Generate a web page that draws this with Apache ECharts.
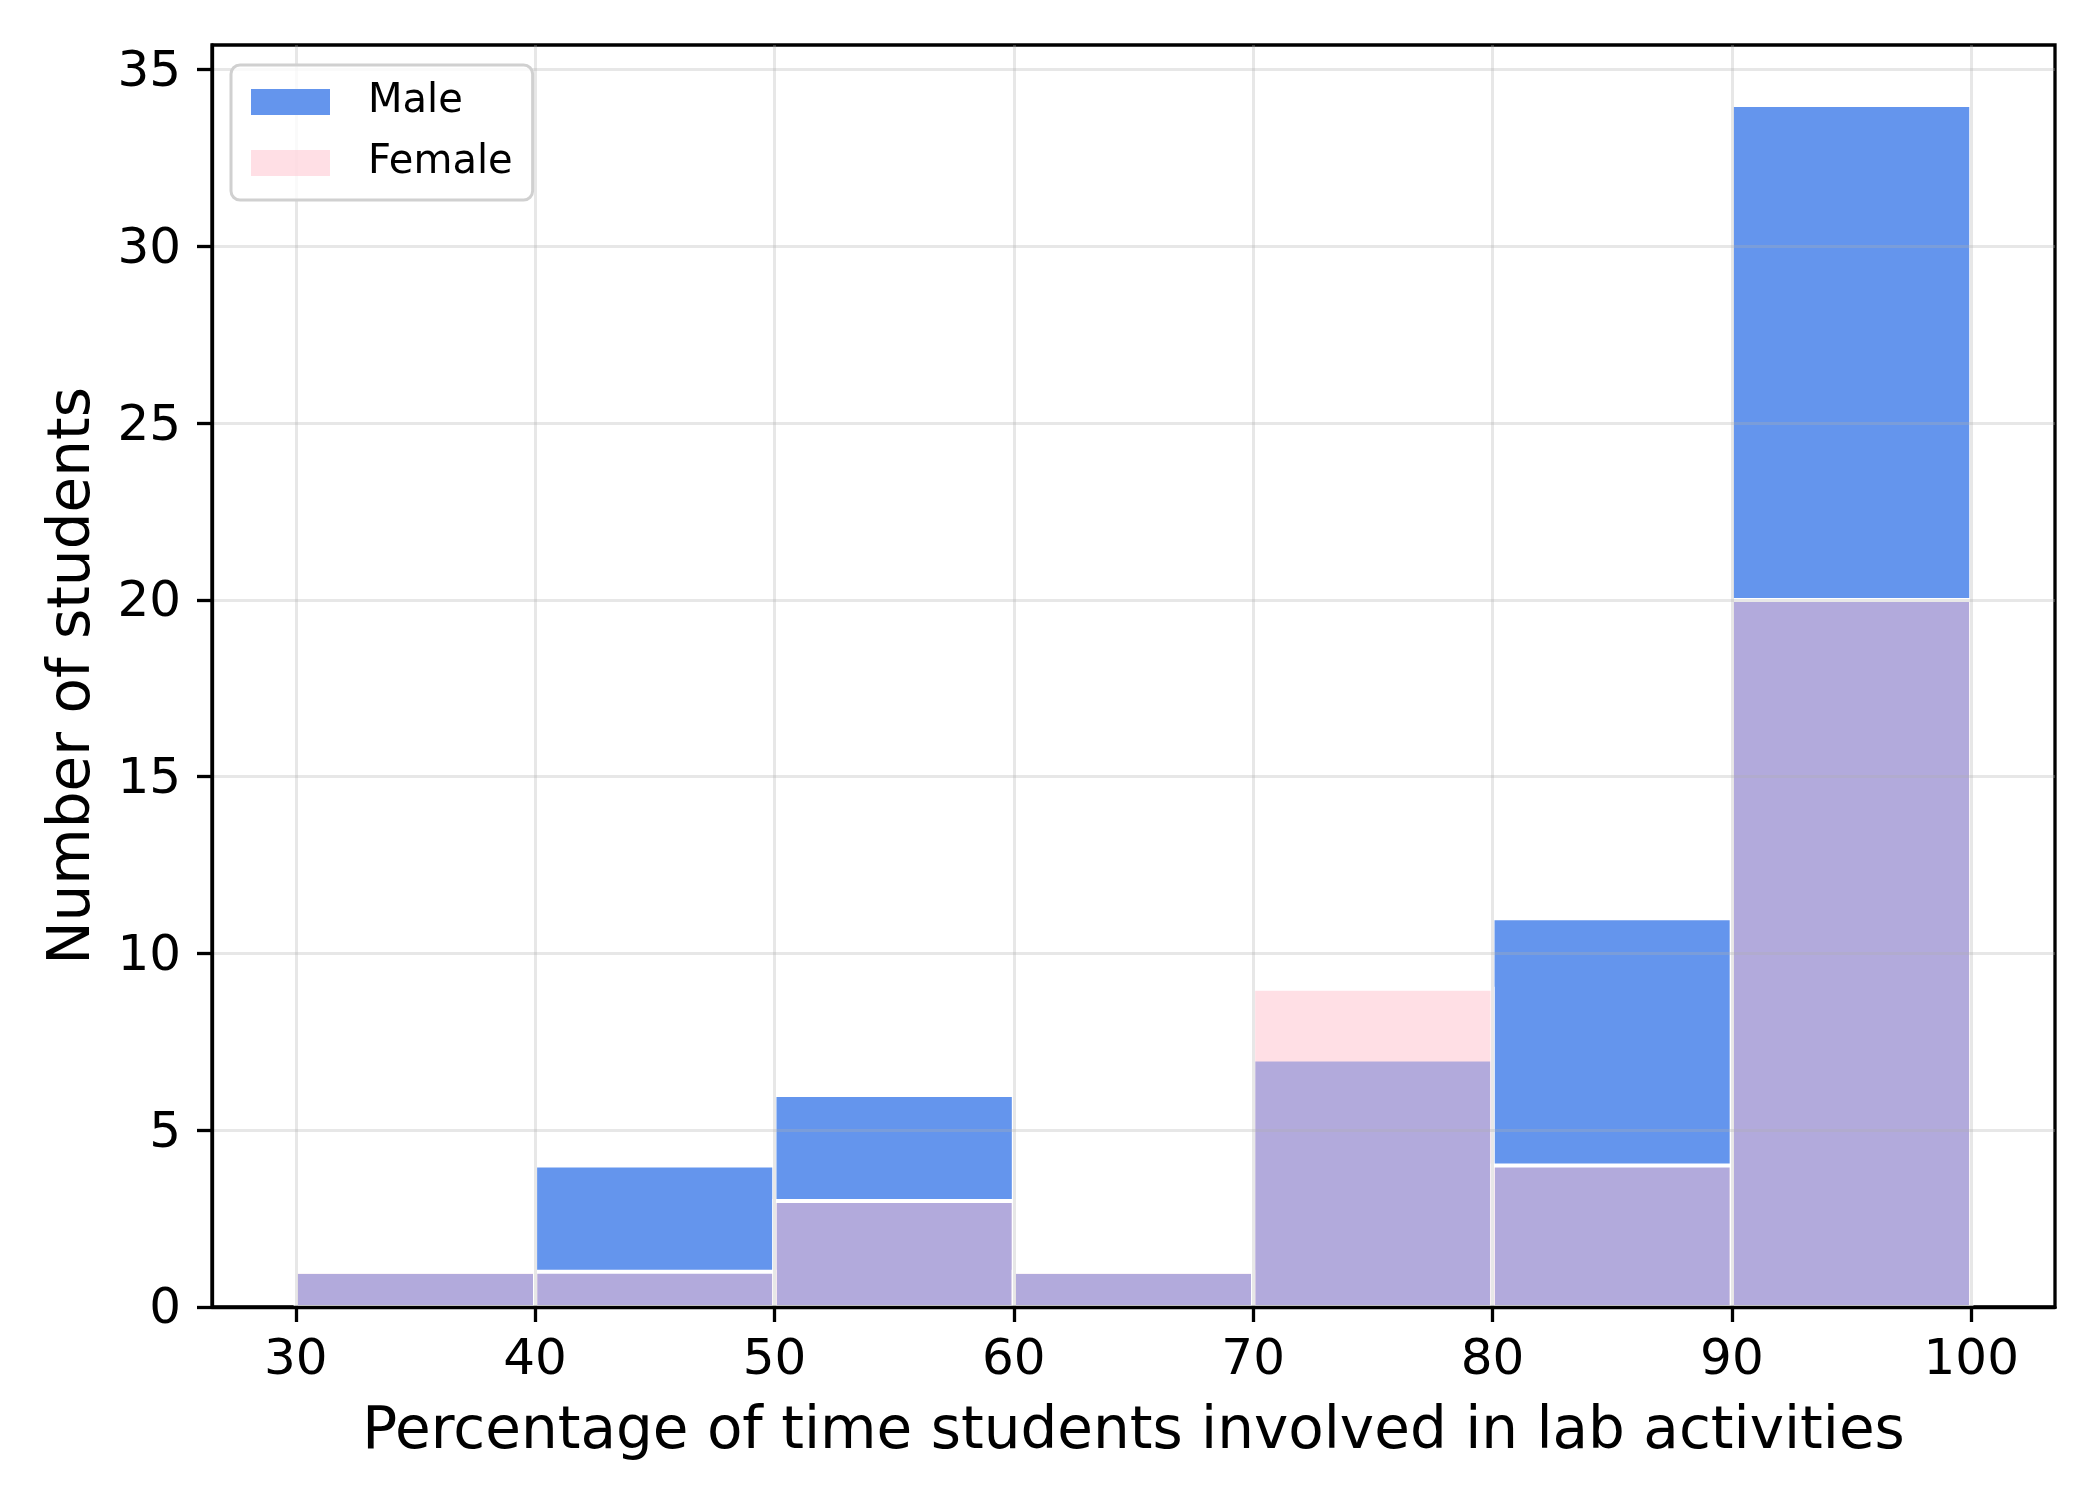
<!DOCTYPE html>
<html>
<head>
<meta charset="utf-8">
<script src="https://cdn.jsdelivr.net/npm/echarts@6/dist/echarts.min.js"></script>
<style>
html,body{margin:0;padding:0;background:#fff;}
#chart{width:2100px;height:1500px;}
</style>
</head>
<body>
<div id="chart"></div>
<script>
// Histogram bin edges (percentage of time)
const binEdges = [30, 40, 50, 60, 70, 80, 90, 100];
// Counts per bin
const maleCounts = [1, 4, 6, 1, 7, 11, 34];
const femaleCounts = [1, 1, 3, 1, 9, 4, 20];
// Tick labels
const xTicks = [30, 40, 50, 60, 70, 80, 90, 100];
const yTicks = [0, 5, 10, 15, 20, 25, 30, 35];

const FONT = 'DejaVu Sans';
const maleColor = '#6495ED';
const femaleColor = 'rgba(255,192,203,0.5)';

function toData(counts) {
  return counts.map((c, i) => [binEdges[i], binEdges[i + 1], c]);
}

function renderer(fill) {
  return function (params, api) {
    const x0 = api.value(0), x1 = api.value(1), v = api.value(2);
    const p0 = api.coord([x0, 0]);
    const p1 = api.coord([x1, v]);
    return {
      type: 'rect',
      shape: { x: p0[0], y: p1[1], width: p1[0] - p0[0], height: p0[1] - p1[1] },
      style: { fill: fill, stroke: '#ffffff', lineWidth: 4 }
    };
  };
}

const chart = echarts.init(document.getElementById('chart'), null, { renderer: 'canvas' });
chart.setOption({
  animation: false,
  backgroundColor: '#ffffff',
  textStyle: { fontFamily: FONT },
  grid: {
    left: 212, right: 45, top: 45, bottom: 193,
    show: true, borderColor: '#000', borderWidth: 3.3, backgroundColor: 'transparent'
  },
  legend: {
    orient: 'vertical',
    left: 231, top: 65,
    z: 10,
    padding: [17, 20, 17, 20],
    itemWidth: 79, itemHeight: 26, itemGap: 21,
    backgroundColor: 'rgba(255,255,255,0.8)',
    borderColor: '#d0d0d0', borderWidth: 3, borderRadius: 9,
    textStyle: { fontFamily: FONT, fontSize: 40, color: '#000', padding: [0, 0, 0, 33] },
    data: [
      { name: 'Male', icon: 'rect', itemStyle: { color: maleColor, borderWidth: 0 } },
      { name: 'Female', icon: 'rect', itemStyle: { color: femaleColor, borderWidth: 0 } }
    ]
  },
  xAxis: {
    type: 'value', min: 26.5, max: 103.5, z: 5,
    name: 'Percentage of time students involved in lab activities',
    nameLocation: 'middle', nameGap: 97,
    nameTextStyle: { fontFamily: FONT, fontSize: 58, color: '#000' },
    axisLine: { show: true, lineStyle: { color: '#000', width: 3.3 } },
    axisTick: { show: true, inside: false, length: 15, lineStyle: { color: '#000', width: 3.3 }, customValues: xTicks },
    axisLabel: { fontFamily: FONT, fontSize: 50, color: '#000', margin: 29, customValues: xTicks },
    splitLine: { show: true, lineStyle: { color: 'rgba(176,176,176,0.3)', width: 3 } }
  },
  yAxis: {
    type: 'value', min: 0, max: 35.7, z: 5,
    name: 'Number of students',
    nameLocation: 'middle', nameGap: 109,
    nameTextStyle: { fontFamily: FONT, fontSize: 58, color: '#000' },
    axisLine: { show: true, lineStyle: { color: '#000', width: 3.3 } },
    axisTick: { show: true, inside: false, length: 15, lineStyle: { color: '#000', width: 3.3 }, customValues: yTicks },
    axisLabel: {
      fontFamily: FONT, fontSize: 50, color: '#000', margin: 31, customValues: yTicks,
      formatter: function (v) { return '{t|' + v + '}'; },
      rich: { t: { fontFamily: FONT, fontSize: 50, color: '#000', padding: [7, 0, 0, 0] } }
    },
    splitLine: { show: true, lineStyle: { color: 'rgba(176,176,176,0.3)', width: 3 } }
  },
  series: [
    {
      name: 'Male', type: 'custom', z: 2,
      itemStyle: { color: maleColor },
      renderItem: renderer(maleColor),
      encode: { x: [0, 1], y: 2 },
      data: toData(maleCounts)
    },
    {
      name: 'Female', type: 'custom', z: 3,
      itemStyle: { color: femaleColor },
      renderItem: renderer(femaleColor),
      encode: { x: [0, 1], y: 2 },
      data: toData(femaleCounts)
    }
  ]
});
</script>
</body>
</html>
